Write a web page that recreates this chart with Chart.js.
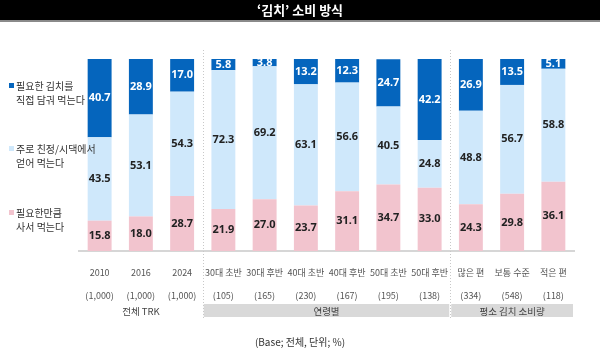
<!DOCTYPE html>
<html>
<head>
<meta charset="utf-8">
<script src="https://cdn.jsdelivr.net/npm/chart.js@4"></script>
<style>
  html, body { margin: 0; padding: 0; background: #fff; }
  #wrap { width: 600px; height: 353px; }
</style>
</head>
<body>
<div id="wrap"><canvas id="kimchiChart" width="600" height="353"></canvas></div>
<script>
// 카테고리 / 표본수
const categories = ['2010', '2016', '2024', '30대 초반', '30대 후반', '40대 초반', '40대 후반', '50대 초반', '50대 후반', '많은 편', '보통 수준', '적은 편'];
const baseCounts = ['(1,000)', '(1,000)', '(1,000)', '(105)', '(165)', '(230)', '(167)', '(195)', '(138)', '(334)', '(548)', '(118)'];

// 시리즈 값 (%)
const buyValues = [15.8, 18.0, 28.7, 21.9, 27.0, 23.7, 31.1, 34.7, 33.0, 24.3, 29.8, 36.1];
const familyValues = [43.5, 53.1, 54.3, 72.3, 69.2, 63.1, 56.6, 40.5, 24.8, 48.8, 56.7, 58.8];
const makeValues = [40.7, 28.9, 17.0, 5.8, 3.8, 13.2, 12.3, 24.7, 42.2, 26.9, 13.5, 5.1];

const seriesNames = [['필요한만큼', '사서 먹는다'], ['주로 친정/시댁에서', '얻어 먹는다'], ['필요한 김치를', '직접 담궈 먹는다']];

// 그룹 (시작 인덱스, 끝 인덱스)
const groupNames = ['전체 TRK', '연령별', '평소 김치 소비량'];
const groupStart = [0, 3, 9];
const groupEnd = [2, 8, 11];

const colors = ['#f2c4ce', '#cfe8fb', '#0565bd'];
const labelColors = ['#222', '#222', '#fff'];
const KR = '"Noto Sans CJK KR", "Noto Sans", sans-serif';

// 막대 안 값 표시
const valueLabels = {
    id: 'valueLabels',
    afterDatasetsDraw(chart) {
        const ctx = chart.ctx;
        ctx.save();
        ctx.font = 'bold 11px "Noto Sans", sans-serif';
        ctx.textAlign = 'center';
        ctx.textBaseline = 'middle';
        chart.data.datasets.forEach((ds, di) => {
            const meta = chart.getDatasetMeta(di);
            ctx.fillStyle = labelColors[di];
            meta.data.forEach((bar, i) => {
                const y = (bar.y + bar.base) / 2;
                ctx.fillText(ds.data[i].toFixed(1), bar.x, y);
            });
        });
        ctx.restore();
    }
};

// 제목, 범례, 그룹 박스, 구분선, 주석
const decorations = {
    id: 'decorations',
    beforeDraw(chart) {
        const ctx = chart.ctx;
        const x = chart.scales.x;
        const half = (x.getPixelForValue(1) - x.getPixelForValue(0)) / 2;
        ctx.save();
        // 그룹 박스
        groupNames.forEach((name, g) => {
            const left = x.getPixelForValue(groupStart[g]) - half;
            const right = x.getPixelForValue(groupEnd[g]) + half;
            if (g > 0) {
                ctx.fillStyle = '#d9d9d9';
                ctx.fillRect(left + 1, 304, right - left - 2, 13);
            }
            ctx.fillStyle = '#444';
            ctx.font = '9.5px ' + KR;
            ctx.textAlign = 'center';
            ctx.textBaseline = 'middle';
            ctx.fillText(name, (left + right) / 2, 311);
        });
        ctx.restore();
    },
    afterDraw(chart) {
        const ctx = chart.ctx;
        const x = chart.scales.x;
        const half = (x.getPixelForValue(1) - x.getPixelForValue(0)) / 2;
        ctx.save();
        // 제목 바
        ctx.fillStyle = '#000';
        ctx.fillRect(0, 0, 600, 20);
        ctx.fillStyle = '#8a8a8a';
        ctx.fillRect(0, 20, 600, 2);
        ctx.fillStyle = '#fff';
        ctx.font = 'bold 13px ' + KR;
        ctx.textAlign = 'center';
        ctx.textBaseline = 'middle';
        ctx.fillText('\u2018김치\u2019 소비 방식', 300, 10);

        // 점선 구분선
        ctx.strokeStyle = '#c8c8c8';
        ctx.lineWidth = 1;
        ctx.setLineDash([1, 2]);
        [groupStart[1], groupStart[2]].forEach(idx => {
            const px = Math.round(x.getPixelForValue(idx) - half) + 0.5;
            ctx.beginPath();
            ctx.moveTo(px, 50);
            ctx.lineTo(px, 318);
            ctx.stroke();
        });
        ctx.setLineDash([]);

        // 범례 (위에서부터 직접 담궈, 얻어, 사서)
        const legendY = [86, 149, 213];
        ctx.font = '10px ' + KR;
        ctx.textAlign = 'left';
        ctx.textBaseline = 'middle';
        [2, 1, 0].forEach((si, k) => {
            ctx.fillStyle = colors[si];
            ctx.fillRect(9, legendY[k] - 3, 5, 5);
            ctx.fillStyle = '#333';
            ctx.fillText(seriesNames[si][0], 16, legendY[k]);
            ctx.fillText(seriesNames[si][1], 16, legendY[k] + 14);
        });

        // 주석
        ctx.fillStyle = '#333';
        ctx.textAlign = 'center';
        ctx.fillText('(Base; 전체, 단위; %)', 300, 342);
        ctx.restore();
    }
};

const ctx = document.getElementById('kimchiChart').getContext('2d');
new Chart(ctx, {
    type: 'bar',
    data: {
        labels: categories.map((c, i) => [c, baseCounts[i]]),
        datasets: [
            { data: buyValues, backgroundColor: colors[0] },
            { data: familyValues, backgroundColor: colors[1] },
            { data: makeValues, backgroundColor: colors[2] }
        ]
    },
    options: {
        responsive: false,
        animation: false,
        devicePixelRatio: 1,
        layout: { padding: { top: 59, left: 79, right: 26, bottom: 0 } },
        datasets: { bar: { categoryPercentage: 1, barPercentage: 0.58 } },
        scales: {
            x: {
                stacked: true,
                afterFit: (s) => { s.height = 102; },
                grid: { display: false, drawTicks: false },
                border: { display: true, color: '#d6d6d6', width: 2 },
                ticks: {
                    padding: 10,
                    color: '#555',
                    maxRotation: 0,
                    autoSkip: false,
                    font: { family: KR, size: 9, lineHeight: 2.55 }
                }
            },
            y: {
                stacked: true,
                display: false,
                min: 0,
                max: 100
            }
        },
        plugins: {
            legend: { display: false },
            tooltip: { enabled: false }
        }
    },
    plugins: [valueLabels, decorations]
});
</script>
</body>
</html>
